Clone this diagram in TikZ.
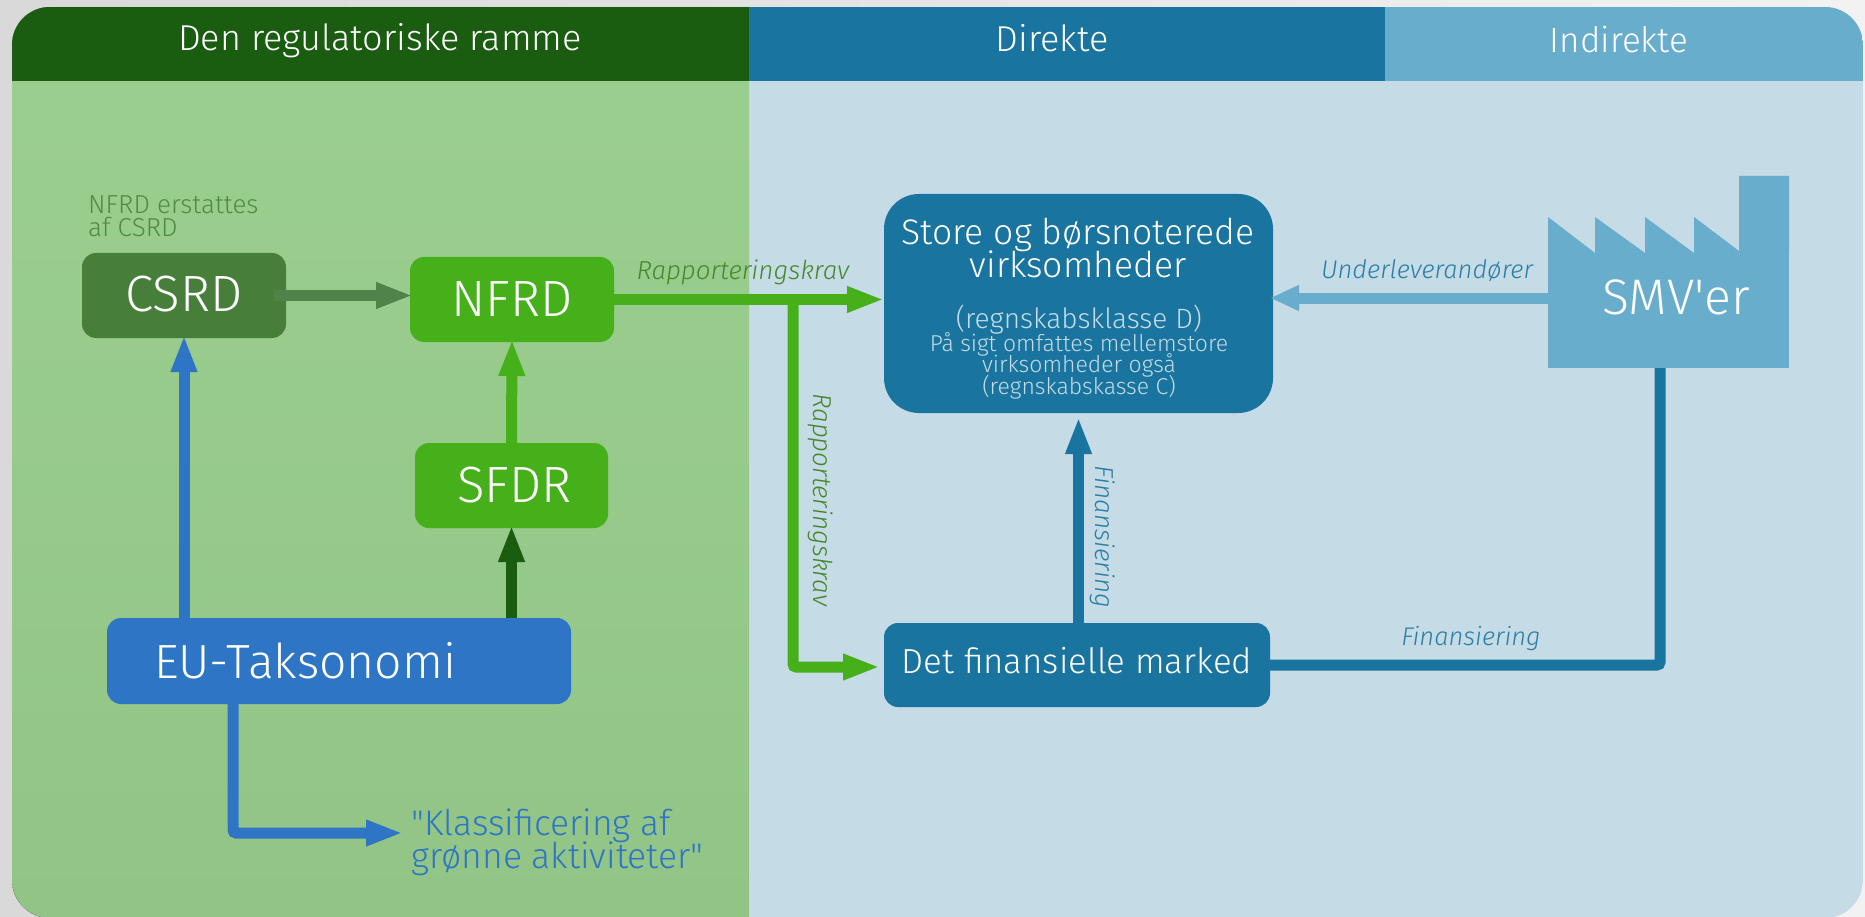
\documentclass[tikz,border=0pt]{standalone}
\usepackage{fontspec}
\setmainfont{Fira Sans Light}[Ligatures=TeXOff, ItalicFont={Fira Sans Light Italic}]
\usetikzlibrary{arrows.meta}

\definecolor{deepgreen}{HTML}{1A5C10}
\definecolor{okgreen}{HTML}{45B01A}
\definecolor{mossgreen}{HTML}{477F3A}
\definecolor{fadegreen}{HTML}{50834A}
\definecolor{panelgreen}{HTML}{9BCF90}
\definecolor{panelgreenb}{HTML}{92C585}
\definecolor{paleblue}{HTML}{C5DBE6}
\definecolor{seablue}{HTML}{19749F}
\definecolor{skyblue}{HTML}{69ADCD}
\definecolor{eublue}{HTML}{2E75C5}

\newcommand{\fsz}[2]{\fontsize{#1}{#2}\selectfont\lineskiplimit=-100pt\relax}

\begin{document}
\begin{tikzpicture}[
    % Define node styles
    x = 1pt,
    y = -1pt,
    box/.style={rectangle, rounded corners=14pt, inner sep=0pt, outer sep=0pt, text=white, align=center},
    big/.style={font=\fsz{51}{51}},
    mid/.style={font=\fsz{34.8}{35}},
    head/.style={inner sep=0pt, text=white, font=\fsz{36}{36}},
    note/.style={inner sep=0pt, font=\fsz{26}{26}\itshape},
    storeline/.style={anchor=base, inner sep=0pt, text=white, font=\fsz{35.5}{36}},
    storesmall/.style={anchor=base, inner sep=0pt, text=paleblue, font=\fsz{23}{23}},
    flow/.style={line width=11pt, shorten >=-3pt, -{Triangle[length=37pt,width=24pt]}},
]
\useasboundingbox (0,0) rectangle (1865,917);
\fill[left color=black!15, right color=black!5] (0,0) rectangle (1865,917);

% Panels and headers
\begin{scope}
    \clip[rounded corners=38pt] (12,7) rectangle (1863,918);
    \fill[paleblue] (749,7) rectangle (1863,918);
    \fill[top color=panelgreen, bottom color=panelgreenb] (12,7) rectangle (749,918);
    \fill[deepgreen] (12,7) rectangle (749,81);
    \fill[seablue] (749,7) rectangle (1385,81);
    \fill[skyblue] (1385,7) rectangle (1863,81);
\end{scope}
\node[head] (ramme) at (380,41) {Den regulatoriske ramme};
\node[head] (direkte) at (1052,38) {Direkte};
\node[head, font=\fsz{35}{35}] (indirekte) at (1619,40) {Indirekte};

% Main nodes
\node[box, big, fill=mossgreen, minimum width=204pt, minimum height=85pt] (csrd) at (184,295.5) {\raisebox{3pt}{CSRD}};
\node[box, big, fill=okgreen, minimum width=204pt, minimum height=85pt] (nfrd) at (512,299.5) {NFRD};
\node[box, big, fill=okgreen, minimum width=193pt, minimum height=85pt] (sfdr) at (511.5,485.5) {\hspace*{6pt}SFDR};
\node[box, font=\fsz{48}{48}, fill=eublue, minimum width=464pt, minimum height=86pt, text width=370pt, align=left] (eu) at (339,661) {\raisebox{1pt}{EU-Taksonomi}};
\node[box, fill=seablue, rounded corners=35pt, minimum width=389pt, minimum height=219pt] (store) at (1078.5,303.5) {};
\node[box, mid, fill=seablue, minimum width=386pt, minimum height=84pt] (market) at (1077,665) {\raisebox{9pt}{Det finansielle marked}};

% Lines in the big box
\node[storeline] (storea) at (1078,245) {Store og børsnoterede};
\node[storeline] (storeb) at (1078,277) {virksomheder};
\node[storesmall, font=\fsz{28}{28}] (storec) at (1079,328) {(regnskabsklasse D)};
\node[storesmall] (stored) at (1079,351) {På sigt omfattes mellemstore};
\node[storesmall] (storee) at (1079,372) {virksomheder også};
\node[storesmall] (storef) at (1079,394) {(regnskabskasse C)};

% Factory
\node[box, rounded corners=0pt, fill=skyblue, minimum width=241pt, minimum height=115pt] (smv) at (1668.5,310.5) {};
\fill[skyblue] (1548,253) -- (1548,217) -- (1595,253) -- (1595,217) -- (1645,253) -- (1645,217)
    -- (1694,253) -- (1694,217) -- (1739,251) -- (1739,176) -- (1789,176) -- (1789,253) -- cycle;
\node[inner sep=0pt, text=white, font=\fsz{50}{50}] (smvtext) at (1676,297) {SMV'er};

% Free ends of the connectors
\coordinate (krav) at (793,299.5);
\coordinate (smvout) at (1548,298);
\coordinate (smvfoot) at (1660,368);
\coordinate (klassfoot) at (233,833);
\coordinate (klasstip) at (400,833);

% Texts beside the arrows
\node[anchor=west, inner sep=0pt, align=left, text=eublue, font=\fsz{35.5}{33}] (klass) at (411,842) {"Klassificering af\\grønne aktiviteter"};
\node[anchor=south west, inner sep=0pt, align=left, text=fadegreen!80!okgreen, font=\fsz{26}{23}] (erstattes) at (88,237) {NFRD erstattes\\af CSRD};
\node[note, text=okgreen!70!black!90] (kravtop) at (743,272) {Rapporteringskrav};
\node[note, text=okgreen!70!black!90, rotate=-90] (kravside) at (821,500) {Rapporteringskrav};
\node[note, font=\fsz{25.5}{26}\itshape, text=seablue!90!paleblue] (under) at (1427,271) {Underleverandører};
\node[note, text=seablue!90!paleblue, rotate=-90] (finside) at (1103,537) {Finansiering};
\node[note, font=\fsz{25.5}{26}\itshape, text=seablue!90!paleblue] (finbund) at (1471,639) {Finansiering};

% Arrows for main flow
\draw[flow, fadegreen] ([xshift=-12pt]csrd.east) -- (nfrd.west |- csrd.east);
\draw[flow, eublue] (eu.north -| csrd.south) -- (csrd.south);
\draw[flow, okgreen] (sfdr.north) -- (nfrd.south);
\draw[flow, deepgreen] (eu.north -| sfdr.south) -- (sfdr.south);
\draw[flow, eublue, rounded corners=3pt] (eu.south -| klassfoot) -- (klassfoot) -- (klasstip);
\draw[flow, okgreen, shorten >=0pt] (nfrd.east) -- (store.west |- nfrd.east);
\draw[flow, okgreen, rounded corners=3pt, shorten >=4pt] (krav) |- ([yshift=-2pt]market.west);
\draw[flow, seablue, shorten >=4pt] (market.north -| store.south) -- (store.south);
\draw[line width=11pt, seablue, rounded corners=3pt] (market.east) -| (smvfoot);
\draw[line width=11pt, skyblue, shorten >=-3pt, -{Triangle[length=29pt,width=24pt]}] (smvout) -- (store.east |- smvout);

\end{tikzpicture}
\end{document}
